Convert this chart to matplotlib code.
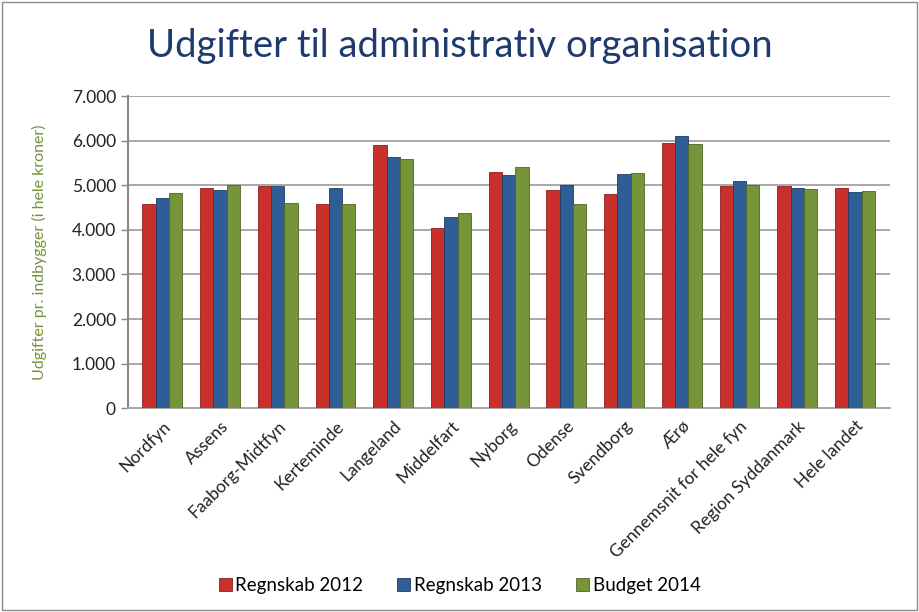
import numpy as np
import matplotlib.pyplot as plt

categories = ["Nordfyn", "Assens", "Faaborg-Midtfyn", "Kerteminde", "Langeland",
              "Middelfart", "Nyborg", "Odense", "Svendborg", "Ærø",
              "Gennemsnit for hele fyn", "Region Syddanmark", "Hele landet"]
regnskab_2012 = [4580, 4930, 4980, 4570, 5900, 4050, 5290, 4890, 4800, 5940, 4990, 4980, 4930]
regnskab_2013 = [4710, 4890, 4980, 4940, 5630, 4280, 5240, 5010, 5250, 6110, 5100, 4940, 4860]
budget_2014 = [4820, 5010, 4600, 4580, 5600, 4370, 5410, 4580, 5270, 5930, 5010, 4920, 4880]
series_names = ["Regnskab 2012", "Regnskab 2013", "Budget 2014"]
yticks = [0, 1000, 2000, 3000, 4000, 5000, 6000, 7000]
ytick_labels = ["0", "1.000", "2.000", "3.000", "4.000", "5.000", "6.000", "7.000"]

colors = ["#C9302C", "#2F5D95", "#76953A"]
edges = ["#8E1F1C", "#1E3E66", "#4F6626"]

plt.rcParams["font.family"] = ["Lato", "DejaVu Sans"]

fig = plt.figure(figsize=(9.19, 6.12), dpi=100)
ax = fig.add_axes([0.139, 0.333, 0.829, 0.51])

x = np.arange(len(categories))
w = 0.23
for i, (vals, name) in enumerate(zip([regnskab_2012, regnskab_2013, budget_2014], series_names)):
    ax.bar(x + (i - 1) * w, vals, width=w, color=colors[i], edgecolor=edges[i],
           linewidth=0.6, label=name, zorder=3)

ax.set_xlim(-0.6, len(categories) - 0.4)
ax.set_ylim(0, 7000)
ax.set_yticks(yticks)
ax.set_yticklabels(ytick_labels, fontsize=12.5, color="#222222")
ax.set_xticks(x)
ax.set_xticklabels(categories, rotation=45, ha="right", rotation_mode="anchor",
                   fontsize=12.5, color="#222222")
ax.tick_params(axis="x", length=0, pad=7)
ax.tick_params(axis="y", length=5, color="#888888", width=1)
ax.grid(axis="y", color="#9A9A9A", linewidth=1.2, zorder=0)
for s in ["top", "right"]:
    ax.spines[s].set_visible(False)
ax.spines["left"].set_color("#888888")
ax.spines["left"].set_linewidth(1.5)
ax.spines["bottom"].set_color("#AAAAAA")
ax.spines["bottom"].set_linewidth(1.5)

ax.set_ylabel("Udgifter pr. indbygger (i hele kroner)", color="#76923C", fontsize=11.5, labelpad=18)

fig.text(0.5, 0.925, "Udgifter til administrativ organisation", ha="center", va="center",
         fontsize=27.5, color="#1F3A6E")

handles, labels = ax.get_legend_handles_labels()
fig.legend(handles, labels, loc="center", bbox_to_anchor=(0.5, 0.043), ncol=3, frameon=False,
           fontsize=13.5, handlelength=0.7, handleheight=0.7, handletextpad=0.2, columnspacing=1.8)

fig.patches.append(plt.Rectangle((0.002, 0.003), 0.996, 0.994, transform=fig.transFigure,
                                 fill=False, edgecolor="#8C8C8C", linewidth=1))

plt.savefig("out.png", dpi=100)
plt.close()
